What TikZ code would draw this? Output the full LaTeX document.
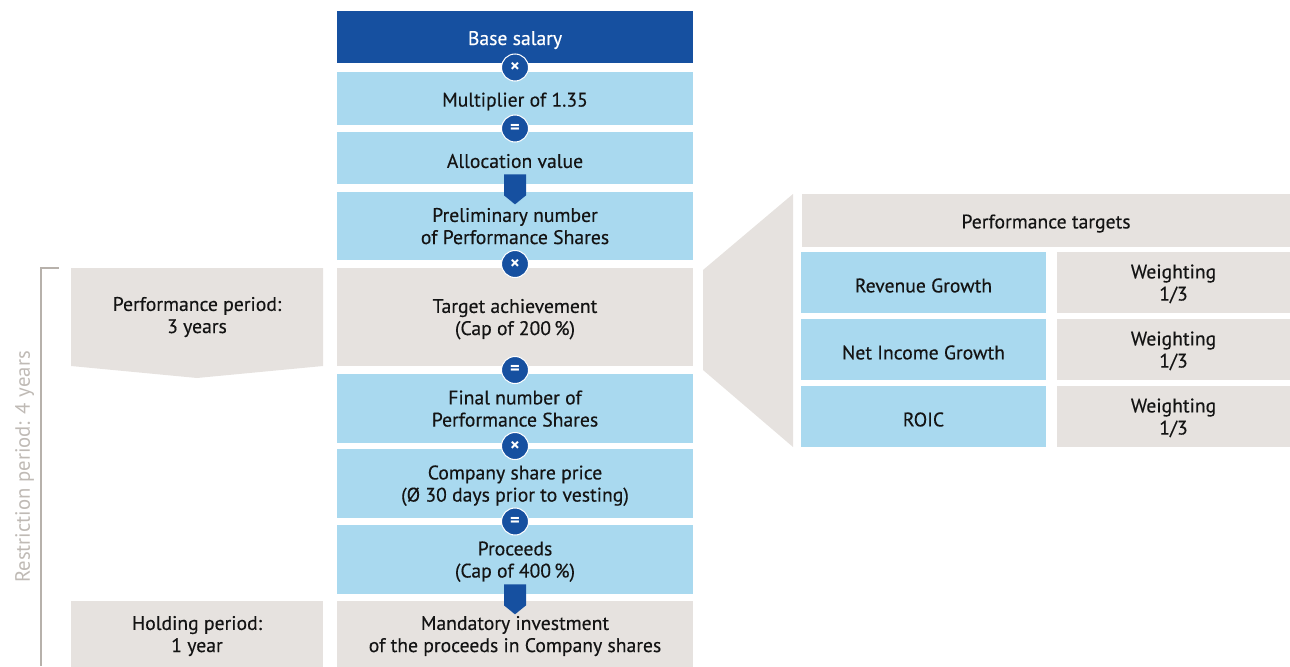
\documentclass[tikz,border=0pt]{standalone}
\usepackage{fontspec}
\setmainfont{PT Sans}[UprightFeatures={FakeBold=0.35}]
\usetikzlibrary{positioning,calc}
\definecolor{darkblue}{HTML}{1650A0}
\definecolor{lightblue}{HTML}{A9D9EF}
\definecolor{paleGray}{HTML}{E6E2DF}
\definecolor{lineGray}{HTML}{B7B1AB}
\definecolor{textGray}{HTML}{BFBAB5}
\newfontfamily\thinfont{PT Sans}

\begin{document}
\begin{tikzpicture}[x=0.02cm,y=-0.02cm,
    box/.style={rectangle,inner sep=0pt,align=center,
      font=\fontsize{11.2}{12.6}\selectfont,text=black!92,
      execute at begin node={\rule{0pt}{11.4pt}}},
    twoline/.style={text depth=0pt},
    mainbox/.style={box,minimum width=7.12cm},
    salarybox/.style={mainbox,fill=darkblue,text=white},
    calcbox/.style={mainbox,fill=lightblue},
    greybox/.style={mainbox,fill=paleGray},
    op/.style={circle,fill=darkblue,draw=white,line width=0.6pt,
      minimum size=0.54cm,inner sep=0pt,text=white,
      font=\fontsize{10.5}{10.5}\selectfont\bfseries},
    pointer/.style={fill=darkblue},
    bracket/.style={draw=lineGray,line width=0.7pt}]
 \useasboundingbox (0,0) rectangle (1290,666);

 % main column
 \node[salarybox,minimum height=1.04cm] (base) at (515,37) {Base salary};
 \node[calcbox,minimum height=1.06cm] (mult) at (515,98.5) {Multiplier of 1.35};
 \node[calcbox,minimum height=1.04cm] (alloc) at (515,158) {Allocation value};
 \node[calcbox,twoline,minimum height=1.36cm] (prelim) at (515,226) {Preliminary number\\of Performance Shares};
 \node[greybox,twoline,minimum height=1.96cm] (target) at (515,317) {Target achievement\\(Cap of 200\,\%)};
 \node[calcbox,twoline,minimum height=1.38cm] (final) at (515,408.5) {Final number of\\Performance Shares};
 \node[calcbox,twoline,minimum height=1.38cm] (price) at (515,483.5) {Company share price\\(Ø 30 days prior to vesting)};
 \node[calcbox,twoline,minimum height=1.38cm] (proceeds) at (515,559.5) {Proceeds\\(Cap of 400\,\%)};
 \node[greybox,twoline,minimum height=1.34cm] (invest) at (515,634) {Mandatory investment\\of the proceeds in Company shares};

 % operators
 \node[op] (op1) at ($(base.south)!.5!(mult.north)$) {×};
 \node[op] (op2) at ($(mult.south)!.5!(alloc.north)$) {=};
 \node[op] (op3) at ($(prelim.south)!.5!(target.north)$) {×};
 \node[op] (op4) at ($(target.south)!.5!(final.north)$) {=};
 \node[op] (op5) at ($(final.south)!.5!(price.north)$) {×};
 \node[op] (op6) at ($(price.south)!.5!(proceeds.north)$) {=};

 % pointers
 \fill[pointer] ($(alloc.south)+(-11,-10)$) -- ++(22,0) -- ++(0,21) -- ++(-11,9) -- ++(-11,-9) -- cycle;
 \fill[pointer] ($(proceeds.south)+(-11,-10)$) -- ++(22,0) -- ++(0,21) -- ++(-11,9) -- ++(-11,-9) -- cycle;

 % periods
 \fill[paleGray] (71,268) -- (323,268) -- (323,366) -- (197,378) -- (71,366) -- cycle;
 \node[box,twoline] (perf) at (197,315) {Performance period:\\3 years};
 \node[box,twoline,fill=paleGray,minimum width=5.04cm,minimum height=1.34cm] (hold) at (197,634) {Holding period:\\1 year};
 \draw[bracket] (59,268) -- (41,268) -- (41,666);
 \node[box,rotate=90,text=textGray,font=\thinfont\fontsize{11.8}{13}\selectfont] (restrict) at (22,467) {Restriction period: 4 years};

 % performance targets
 \fill[paleGray] (703,270) -- (793,194) -- (793,447) -- (703,370) -- cycle;
 \node[box,fill=paleGray,minimum width=9.76cm,minimum height=1.06cm] (targets) at (1046,220.5) {Performance targets};
 \node[box,fill=lightblue,minimum width=4.9cm,minimum height=1.22cm] (rev) at (923.5,282.5) {Revenue Growth};
 \node[box,fill=lightblue,minimum width=4.9cm,minimum height=1.22cm] (net) at (923.5,349.5) {Net Income Growth};
 \node[box,fill=lightblue,minimum width=4.9cm,minimum height=1.22cm] (roic) at (923.5,416.5) {ROIC};
 \node[box,twoline,fill=paleGray,minimum width=4.66cm,minimum height=1.22cm] (w1) at (1173.5,282.5) {Weighting\\1/3};
 \node[box,twoline,fill=paleGray,minimum width=4.66cm,minimum height=1.22cm] (w2) at (1173.5,349.5) {Weighting\\1/3};
 \node[box,twoline,fill=paleGray,minimum width=4.66cm,minimum height=1.22cm] (w3) at (1173.5,416.5) {Weighting\\1/3};
\end{tikzpicture}
\end{document}
